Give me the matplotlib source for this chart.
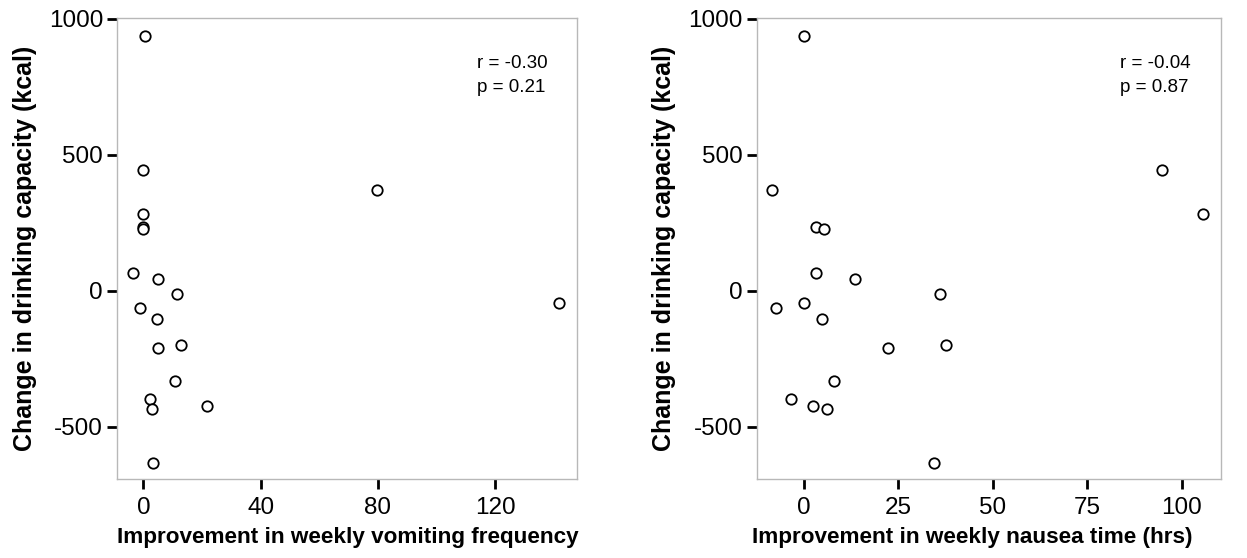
import matplotlib
matplotlib.use('Agg')
import matplotlib.pyplot as plt

# data (same 19 subjects in both)
vomitImprovement = [0.6, 0, 0, 0, 0, -3.7, 5.1, 11.6, -1, 4.7, 5.1, 12.7, 10.7, 2.4, 3, 21.8, 3.4, 79.7, 141.8]
vomitDrinkChange = [937, 444, 282, 235, 229, 66, 42, -11, -63, -103, -210, -198, -333, -399, -433, -422, -634, 372, -46]

nauseaImprovement = [0.1, -8.4, 3.1, 5.4, 3.1, -7.4, 0.1, 4.9, 7.9, -3.3, 2.5, 6.1, 94.7, 105.6, 13.4, 36, 22.2, 37.6, 34.4]
nauseaDrinkChange = [937, 372, 235, 229, 66, -63, -46, -103, -333, -399, -422, -433, 444, 282, 42, -11, -210, -198, -634]

vomitTicks = [0, 40, 80, 120]
nauseaTicks = [0, 25, 50, 75, 100]
yTicks = [-500, 0, 500, 1000]

vomitStats = ['r = -0.30', 'p = 0.21']
nauseaStats = ['r = -0.04', 'p = 0.87']

plt.rcParams['font.family'] = ['Liberation Sans', 'DejaVu Sans']
plt.rcParams['axes.unicode_minus'] = False

fig = plt.figure(figsize=(12.47, 5.58), dpi=100)
axLeft = fig.add_axes([0.0938, 0.1416, 0.369, 0.826])
axRight = fig.add_axes([0.6068, 0.1416, 0.372, 0.826])

panels = [
    (axLeft, vomitImprovement, vomitDrinkChange, vomitTicks, (-9, 148),
     'Improvement in weekly vomiting frequency', vomitStats, 0.502),
    (axRight, nauseaImprovement, nauseaDrinkChange, nauseaTicks, (-12.5, 110.3),
     'Improvement in weekly nausea time (hrs)', nauseaStats, 0.465),
]

for ax, xs, ys, xt, xlim, xlabel, stats, xlabPos in panels:
    ax.plot(xs, ys, linestyle='none', marker='o', markersize=7.5,
            markerfacecolor='white', markeredgecolor='black', markeredgewidth=1.3)
    ax.set_xlim(xlim)
    ax.set_ylim(-692, 1003)
    ax.set_xticks(xt)
    ax.set_yticks(yTicks)
    for side in ['left', 'right', 'top', 'bottom']:
        ax.spines[side].set_color('#b8b8b8')
        ax.spines[side].set_linewidth(1.0)
    ax.tick_params(axis='both', direction='out', length=7, width=2,
                   color='black', labelsize=17.5)
    ax.tick_params(axis='x', pad=6)
    ax.tick_params(axis='y', pad=3)
    # x labels in the reference are narrower than the y label, so a smaller size
    ax.set_xlabel(xlabel, fontsize=16.2, fontweight='bold')
    ax.xaxis.set_label_coords(xlabPos, -0.128)
    ax.xaxis.label.set_verticalalignment('center')
    ax.set_ylabel('Change in drinking capacity (kcal)', fontsize=18, fontweight='bold')
    ax.yaxis.set_label_coords(-0.2, 0.5)
    ax.yaxis.label.set_verticalalignment('center')
    ax.text(0.783, 0.902, stats[0], transform=ax.transAxes, fontsize=13.5, va='center', ha='left')
    ax.text(0.783, 0.850, stats[1], transform=ax.transAxes, fontsize=13.5, va='center', ha='left')

fig.savefig('out.png', dpi=100)
